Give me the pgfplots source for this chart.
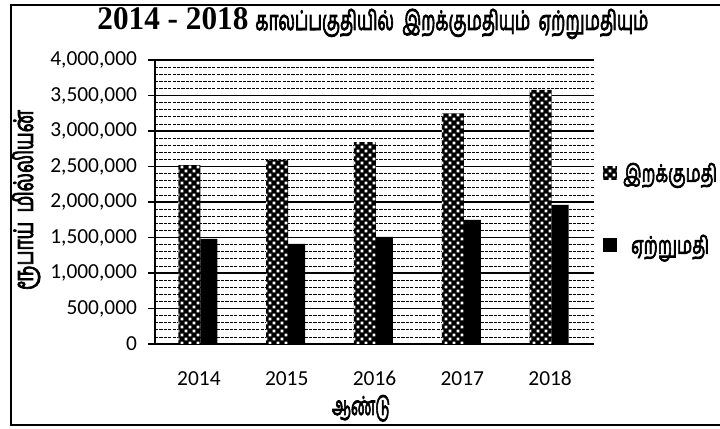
\documentclass[border=0pt]{standalone}
\usepackage{fontspec}
\usepackage{graphicx}
\usepackage{pgfplots}
\pgfplotsset{compat=1.18}
\usetikzlibrary{patterns}
\setmainfont{Carlito}
\newfontfamily\tamil[Script=Tamil, FakeBold=3.6]{Hind Madurai}
\newfontfamily\tnr{Liberation Serif}
\newcommand{\tw}[2]{\resizebox{#1}{\height}{\tamil #2}}
\pgfdeclarepatternformonly{wdots}{\pgfqpoint{-0.5pt}{-0.5pt}}{\pgfqpoint{4.5pt}{4.5pt}}{\pgfqpoint{4pt}{4pt}}{%
  \pgfpathrectangle{\pgfqpoint{0.3pt}{0.3pt}}{\pgfqpoint{1.4pt}{1.4pt}}%
  \pgfpathrectangle{\pgfqpoint{2.3pt}{2.3pt}}{\pgfqpoint{1.4pt}{1.4pt}}%
  \pgfusepath{fill}}
\begin{document}
\begin{tikzpicture}
\useasboundingbox (0,0) rectangle (360pt,214.5pt);
\draw[line width=1.2pt] (360pt,212pt) -- (5.5pt,212pt) -- (5.5pt,2pt) -- (360pt,2pt);
\begin{axis}[
  at={(77.5pt,42.5pt)}, anchor=south west,
  scale only axis, width=219.5pt, height=142pt,
  xmin=-0.5, xmax=4.5, ymin=0, ymax=4000000,
  xtick={0,1,2,3,4}, xticklabels={2014,2015,2016,2017,2018},
  ytick={0,500000,1000000,1500000,2000000,2500000,3000000,3500000,4000000},
  minor y tick num=4,
  scaled y ticks=false,
  /pgf/number format/.cd, fixed, 1000 sep={,}, assume math mode=true,
  /pgfplots/.cd,
  axis x line*=bottom, axis y line*=left,
  axis line style={black, line width=0.9pt},
  tick align=outside, major tick length=3.5pt, minor tick length=0pt,
  xtick style={draw=none},
  ytick style={black, line width=0.8pt},
  ymajorgrids, yminorgrids,
  major grid style={black, line width=0.8pt},
  minor grid style={black, line width=0.35pt, dash pattern=on 1.6pt off 0.6pt},
  tick label style={font=\fontsize{10.7}{12}\selectfont},
  xticklabel style={text height=7.5pt, text depth=0pt, anchor=north, yshift=-6pt},
  yticklabel style={xshift=-2pt},
  ybar,
  legend style={at={(rel axis cs:1.02,0.66)}, anchor=north west, draw=none, fill=none,
    row sep=19pt, inner sep=0pt, nodes={inner sep=3pt}},
  legend image code/.code={\draw[#1,draw=none] (0pt,-3pt) rectangle (7pt,4pt);},
]
\addplot[bar width=11pt, bar shift=-4.75pt, fill=black, draw=none,
  postaction={pattern=wdots, pattern color=white}]
  coordinates {(0,2520000) (1,2594000) (2,2842000) (3,3250000) (4,3580000)};
\addplot[bar width=8.5pt, bar shift=5pt, fill=black, draw=none]
  coordinates {(0,1482000) (1,1410000) (2,1510000) (3,1750000) (4,1960000)};
\legend{{\fontsize{12}{14}\selectfont\tw{47pt}{இறக்குமதி}},{\fontsize{12}{14}\selectfont\tw{39pt}{ஏற்றுமதி}}}
\end{axis}
\node[anchor=base west, inner sep=0pt] at (48.5pt,199.5pt) {\tnr\bfseries\fontsize{16.5}{18}\selectfont\resizebox{75.5pt}{\height}{2014 - 2018}};
\node[anchor=base west, inner sep=0pt] at (127.5pt,199.5pt) {\fontsize{13.5}{15}\selectfont\tw{196.5pt}{காலப்பகுதியில்\ \ இறக்குமதியும்\ \ ஏற்றுமதியும்}};
\node[rotate=90, anchor=center, inner sep=0pt] at (13pt,114.5pt) {\fontsize{13.5}{15}\selectfont\tw{90pt}{ரூபாய்\ \ மில்லியன்}};
\node[anchor=base, inner sep=0pt] at (180.5pt,7pt) {\fontsize{13}{15}\selectfont\tw{29pt}{ஆண்டு}};
\end{tikzpicture}
\end{document}
